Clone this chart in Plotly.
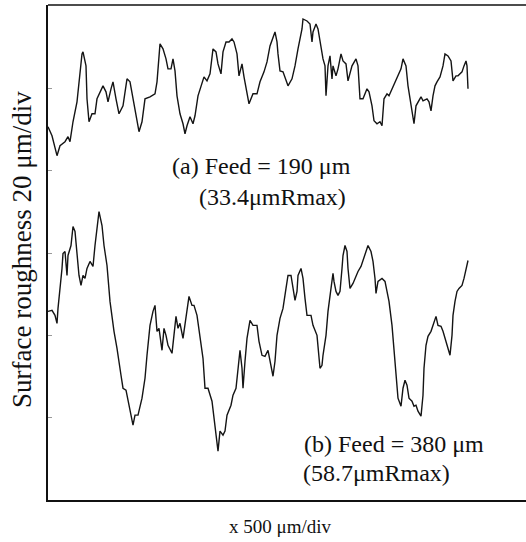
import plotly.graph_objects as go

# Profile (a): Feed = 190 um  (x in um, height in um above the lowest valley)
x_a = [0, 40, 90, 120, 170, 200, 220, 250, 290, 310, 340, 350, 380, 390, 410, 440, 470, 490,
       540, 550, 580, 600, 630, 650, 680, 710, 750, 790, 820, 850, 890, 910, 940, 970, 1020,
       1070, 1090, 1120, 1150, 1180, 1200, 1230, 1250, 1270, 1290, 1320, 1350, 1370, 1390,
       1420, 1450, 1470, 1500, 1540, 1560, 1590, 1620, 1650, 1680, 1700, 1730, 1750, 1780,
       1810, 1840, 1860, 1890, 1910, 1940, 1960, 1990, 2010, 2050, 2090, 2120, 2160, 2190,
       2220, 2270, 2290, 2300, 2320, 2350, 2390, 2400, 2440, 2470, 2500, 2540, 2550, 2590,
       2620, 2640, 2650, 2680, 2700, 2730, 2750, 2770, 2780, 2800, 2820, 2840, 2850, 2880,
       2900, 2930, 2950, 2980, 3000, 3040, 3080, 3100, 3120, 3150, 3190, 3210, 3240, 3260,
       3290, 3320, 3340, 3360, 3390, 3410, 3440, 3470, 3500, 3530, 3550, 3580, 3600, 3620,
       3640, 3660, 3680, 3700, 3730, 3750, 3790, 3810, 3830, 3850, 3870, 3890, 3920, 3950,
       3970, 4000, 4030, 4050, 4080, 4100, 4140, 4160, 4180, 4190, 4200]
h_a = [7.25, 5.0, 0.0, 2.5, 3.5, 4.75, 3.5, 8.5, 13.5, 18.5, 25.5, 26.0, 22.5, 14.25, 8.5, 10.5,
       10.5, 14.25, 16.75, 17.5, 16.0, 13.5, 16.75, 18.5, 14.25, 10.5, 12.5, 19.25, 18.5, 14.25,
       9.25, 6.0, 8.5, 14.25, 14.75, 15.5, 18.5, 28.0, 26.75, 24.25, 21.75, 21.75, 24.25, 21.25,
       15.0, 10.5, 8.0, 5.5, 7.5, 9.75, 8.0, 10.0, 15.0, 18.5, 19.75, 18.75, 20.5, 26.75, 26.0,
       23.0, 20.5, 26.0, 28.5, 28.5, 29.25, 28.5, 25.5, 20.0, 23.0, 19.75, 16.0, 13.0, 15.5,
       15.5, 18.5, 21.0, 23.5, 27.5, 31.0, 28.5, 25.5, 21.25, 21.0, 18.5, 17.5, 19.25, 22.5,
       26.75, 31.75, 34.25, 33.75, 33.0, 28.5, 31.0, 33.0, 31.75, 27.5, 24.25, 22.5, 15.0, 22.5,
       25.0, 19.25, 22.5, 20.0, 21.75, 25.5, 23.75, 23.0, 18.75, 22.5, 24.25, 22.5, 14.25, 14.25,
       16.75, 16.0, 12.5, 8.75, 8.0, 8.5, 7.5, 14.25, 15.5, 15.0, 16.75, 18.5, 20.0, 21.75, 24.25,
       22.5, 17.5, 14.25, 11.75, 8.0, 12.5, 13.5, 14.75, 13.75, 14.25, 13.5, 11.25, 15.0, 17.5,
       18.5, 19.75, 22.5, 25.5, 25.0, 23.75, 18.75, 20.0, 20.0, 21.0, 22.5, 23.75, 22.5, 16.75]

# Profile (b): Feed = 380 um
x_b = [0, 40, 70, 90, 100, 120, 140, 150, 170, 190, 200, 230, 250, 270, 290, 310, 330, 350,
       370, 390, 420, 450, 470, 490, 510, 540, 560, 590, 620, 660, 690, 730, 750, 780, 800, 830,
       850, 870, 900, 940, 970, 990, 1020, 1050, 1070, 1090, 1110, 1140, 1160, 1180, 1200, 1240,
       1260, 1280, 1300, 1320, 1350, 1370, 1390, 1410, 1440, 1460, 1490, 1520, 1550, 1570, 1600,
       1640, 1660, 1680, 1700, 1720, 1750, 1770, 1790, 1830, 1850, 1880, 1900, 1920, 1940, 1950,
       1970, 1990, 2020, 2050, 2090, 2110, 2140, 2170, 2200, 2230, 2250, 2270, 2290, 2320, 2350,
       2380, 2400, 2430, 2450, 2470, 2490, 2500, 2530, 2550, 2570, 2590, 2630, 2650, 2690, 2720,
       2740, 2750, 2780, 2800, 2830, 2850, 2860, 2880, 2900, 2920, 2940, 2950, 2970, 2990, 3000,
       3020, 3050, 3070, 3100, 3130, 3160, 3190, 3200, 3230, 3250, 3270, 3280, 3300, 3340, 3370,
       3390, 3410, 3440, 3460, 3480, 3500, 3530, 3550, 3570, 3590, 3610, 3640, 3660, 3680, 3700,
       3730, 3750, 3760, 3780, 3800, 3830, 3850, 3880, 3900, 3930, 3950, 3980, 4000, 4020, 4040,
       4050, 4070, 4090, 4110, 4140, 4160, 4190, 4200]
h_b = [35.0, 35.25, 34.0, 32.0, 35.75, 40.0, 45.75, 49.5, 50.0, 44.0, 49.0, 51.5, 56.25, 55.0,
       49.0, 44.0, 41.5, 44.0, 43.25, 45.75, 47.5, 46.25, 51.5, 56.25, 60.0, 56.5, 51.5, 46.5,
       37.5, 30.0, 25.75, 19.0, 15.75, 15.25, 12.5, 8.25, 6.5, 9.0, 9.0, 13.25, 18.25, 24.0, 31.5,
       35.0, 36.5, 30.0, 30.75, 25.25, 30.75, 29.0, 26.5, 24.5, 30.0, 33.75, 30.75, 32.0, 28.25,
       31.5, 35.75, 38.75, 36.5, 36.5, 34.0, 28.25, 23.25, 15.75, 15.75, 12.5, 8.75, 4.0, 0.0,
       5.0, 4.0, 5.0, 9.0, 11.5, 14.0, 15.75, 20.75, 25.25, 20.75, 15.75, 22.5, 28.25, 32.75,
       31.5, 31.5, 27.5, 24.0, 23.75, 25.25, 21.5, 18.75, 22.5, 29.0, 33.25, 35.75, 40.75, 44.0,
       44.0, 40.75, 37.75, 40.0, 44.0, 45.75, 43.25, 38.25, 34.0, 34.0, 31.5, 29.0, 20.75, 21.5,
       24.0, 29.0, 35.0, 40.75, 44.5, 42.5, 40.0, 39.0, 40.0, 45.75, 49.0, 51.5, 50.0, 45.75,
       40.75, 42.0, 43.25, 45.0, 46.25, 48.25, 50.75, 51.5, 50.0, 47.5, 43.25, 39.5, 42.5, 43.25,
       42.5, 40.0, 37.5, 31.5, 25.75, 19.0, 13.25, 11.25, 15.75, 17.75, 16.5, 13.25, 12.5, 11.25,
       11.5, 10.0, 8.75, 14.0, 20.75, 26.5, 28.75, 30.0, 31.5, 33.75, 31.5, 31.25, 30.0, 27.5,
       25.25, 24.0, 29.0, 34.0, 37.5, 40.0, 40.75, 41.5, 43.25, 47.0, 47.75]

label_a = ["(a) Feed = 190 μm", "(33.4μmRmax)"]
label_b = ["(b) Feed = 380 μm", "(58.7μmRmax)"]
x_title = "x 500 μm/div"
y_title = "Surface roughness 20 μm/div"

W, H = 526, 542
L, R, T, B = 48, 0, 5, 42
pw, ph = W - L - R, H - T - B
X_RANGE = [0, 4780]
Y_RANGE = [0, 124.0]
BASE_A, BASE_B = 86.25, 12.25

def px(xp):
    return (xp - L) / pw

def py(yp):
    return (H - B - yp) / ph

fig = go.Figure()
line_style = dict(color="#141414", width=1.4)
fig.add_trace(go.Scatter(x=x_a, y=[v + BASE_A for v in h_a], mode="lines", line=line_style,
                         hoverinfo="skip", showlegend=False))
fig.add_trace(go.Scatter(x=x_b, y=[v + BASE_B for v in h_b], mode="lines", line=line_style,
                         hoverinfo="skip", showlegend=False))

serif = "Liberation Serif, Times New Roman, serif"
ann = []
def add_text(txt, xp, yp, size, angle=0):
    ann.append(dict(text=txt, x=px(xp), y=py(yp), xref="paper", yref="paper",
                    showarrow=False, xanchor="center", yanchor="middle", textangle=angle,
                    font=dict(family=serif, size=size, color="#111")))

add_text(label_a[0], 261, 166, 24)
add_text(label_a[1], 272, 197, 24)
add_text(label_b[0], 394, 444, 24)
add_text(label_b[1], 376, 473, 24)
add_text(x_title, 280, 526, 19)
add_text(y_title, 22, 250, 27, angle=-90)

fig.update_layout(
    width=W, height=H,
    margin=dict(l=L, r=R, t=T, b=B),
    paper_bgcolor="white", plot_bgcolor="white",
    annotations=ann,
    shapes=[dict(type="line", xref="paper", yref="paper", x0=0, x1=1, y0=1, y1=1,
                 line=dict(color="#111", width=1.6))],
)
fig.update_xaxes(range=X_RANGE, showgrid=False, zeroline=False, showticklabels=False,
                 showline=True, linecolor="#111", linewidth=1.6, ticks="")
fig.update_yaxes(range=Y_RANGE, showgrid=False, zeroline=False, showticklabels=False,
                 showline=True, linecolor="#111", linewidth=1.6,
                 ticks="inside", ticklen=4, tickwidth=1, tickcolor="#999",
                 tick0=0, dtick=20.625)

fig.write_html("out.html")
